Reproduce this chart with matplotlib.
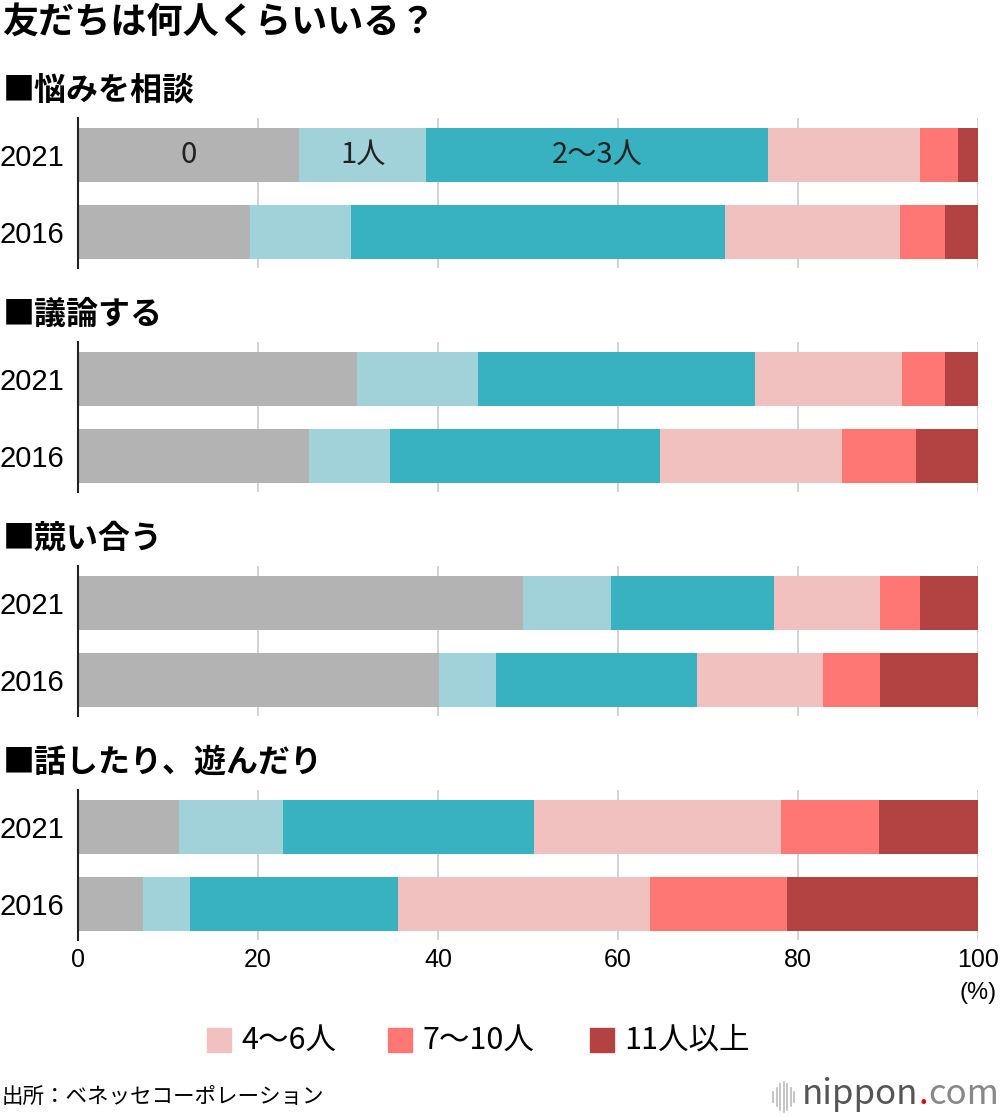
import numpy as np
import matplotlib.pyplot as plt
from matplotlib.patches import Rectangle

plt.rcParams['font.family'] = ['Noto Sans CJK JP', 'DejaVu Sans']

title = "友だちは何人くらいいる？"
groups = ["■悩みを相談", "■議論する", "■競い合う", "■話したり、遊んだり"]
years = ["2021", "2016"]
cats = ["0", "1人", "2〜3人", "4〜6人", "7〜10人", "11人以上"]
colors = ["#b3b3b3", "#a2d2d9", "#38b1c1", "#f0c1bf", "#ff7774", "#b34342"]

# shares (%) per group, rows = 2021, 2016
soudan = [[24.6, 14.1, 38.0, 16.9, 4.2, 2.2],
          [19.1, 11.2, 41.6, 19.4, 5.0, 3.7]]
giron = [[31.0, 13.4, 30.8, 16.4, 4.7, 3.7],
         [25.7, 9.0, 30.0, 20.2, 8.2, 6.9]]
kisou = [[49.4, 9.8, 18.1, 11.8, 4.5, 6.4],
         [40.1, 6.3, 22.4, 14.0, 6.3, 10.9]]
asobu = [[11.2, 11.6, 27.9, 27.4, 10.9, 11.0],
         [7.2, 5.2, 23.2, 28.0, 15.2, 21.2]]
all_data = [soudan, giron, kisou, asobu]

W, H = 1000, 1118
fig = plt.figure(figsize=(W / 100, H / 100), dpi=100)

def fy(px):
    return 1 - px / H

num_font = ['Liberation Sans', 'Noto Sans CJK JP']
x0, x1 = 78, 978
fig.text(2 / W, fy(22), title, fontsize=26, fontweight='bold', va='center', ha='left')

for i, (name, data) in enumerate(zip(groups, all_data)):
    top = 118 + 224 * i
    bot = top + 150
    ax = fig.add_axes([x0 / W, fy(bot), (x1 - x0) / W, (bot - top) / H])
    fig.text(3 / W, fy(91 + 224 * i), name, fontsize=23, fontweight='bold', va='center', ha='left')
    vals = np.array(data)
    left = np.zeros(len(years))
    for k in range(len(cats)):
        ax.barh(range(len(years)), vals[:, k], left=left, height=0.70,
                color=colors[k], zorder=2)
        if i == 0 and k < 3:
            ax.text(left[0] + vals[0, k] / 2, 0, cats[k], ha='center', va='center',
                    fontsize=21, color='#222222', zorder=3)
        left += vals[:, k]
    ax.set_ylim(1.47, -0.48)
    ax.set_xlim(0, 100)
    ax.set_yticks(range(len(years)))
    ax.set_yticklabels(years, fontsize=21, family=num_font)
    ax.tick_params(axis='y', length=0, pad=10)
    ax.set_xticks([0, 20, 40, 60, 80, 100])
    ax.grid(axis='x', color='#cccccc', linewidth=1.2, zorder=0)
    for s in ['top', 'right', 'bottom']:
        ax.spines[s].set_visible(False)
    ax.spines['left'].set_color('#222222')
    ax.spines['left'].set_linewidth(1.5)
    ax.spines['left'].set_zorder(4)
    if i < 3:
        ax.set_xticklabels([])
        ax.tick_params(axis='x', length=0)
    else:
        ax.set_xticklabels(['0', '20', '40', '60', '80', '100'], family=num_font)
        ax.tick_params(axis='x', length=0, labelsize=18, pad=6)

fig.text(978 / W, fy(993), "(%)", fontsize=17, ha='center', va='center', family=num_font)

# legend
leg_items = [(207, "4〜6人", colors[3]), (388, "7〜10人", colors[4]), (590, "11人以上", colors[5])]
for lx, lab, c in leg_items:
    fig.add_artist(Rectangle((lx / W, fy(1052)), 24 / W, 24 / H, color=c,
                             transform=fig.transFigure))
    fig.text((lx + 34) / W, fy(1040), lab, fontsize=22, va='center', ha='left')

fig.text(2 / W, fy(1097), "出所：ベネッセコーポレーション", fontsize=15.5, va='center', ha='left')
# logo
for j, hgt in enumerate([10, 18, 26, 30, 26, 18, 10]):
    fig.add_artist(plt.Line2D([(773 + j * 3.5) / W] * 2, [fy(1097 - hgt / 2), fy(1097 + hgt / 2)],
                              color='#bbbbbb', linewidth=1.2, transform=fig.transFigure))
t1 = fig.text(802 / W, fy(1095), "nippon", fontsize=25, color='#555555', va='center', ha='left')
fig.canvas.draw()
bb = t1.get_window_extent()
t2 = fig.text(bb.x1 / W, fy(1095), ".", fontsize=25, color='#e60012', va='center', ha='left')
bb2 = t2.get_window_extent()
fig.text(bb2.x1 / W, fy(1095), "com", fontsize=25, color='#888888', va='center', ha='left')

fig.savefig("out.png", dpi=100)
